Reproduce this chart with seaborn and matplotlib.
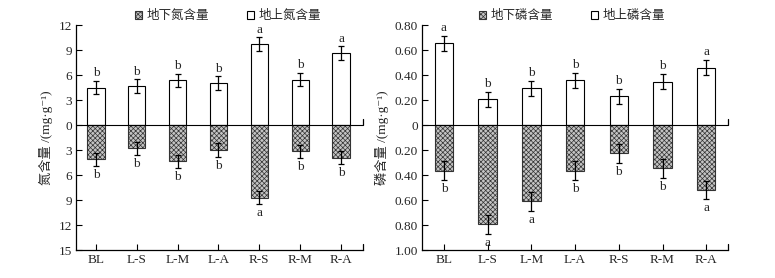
import numpy as np
import pandas as pd
import matplotlib
matplotlib.use("Agg")
import matplotlib.pyplot as plt
import seaborn as sns
from matplotlib.patches import Patch

categories = ["BL", "L-S", "L-M", "L-A", "R-S", "R-M", "R-A"]

n_above = [4.5, 4.7, 5.35, 5.05, 9.75, 5.45, 8.65]
n_above_err = [0.8, 0.8, 0.8, 0.8, 0.8, 0.8, 0.8]
n_below = [4.1, 2.8, 4.35, 3.0, 8.7, 3.15, 3.9]
n_below_err = [0.8, 0.75, 0.8, 0.8, 0.8, 0.8, 0.8]
n_above_letters = ["b", "b", "b", "b", "a", "b", "a"]
n_below_letters = ["b", "b", "b", "b", "a", "b", "b"]

p_above = [0.655, 0.205, 0.295, 0.36, 0.23, 0.348, 0.46]
p_above_err = [0.06, 0.06, 0.06, 0.06, 0.06, 0.06, 0.06]
p_below = [0.365, 0.795, 0.61, 0.365, 0.226, 0.347, 0.52]
p_below_err = [0.075, 0.075, 0.075, 0.075, 0.075, 0.075, 0.075]
p_above_letters = ["a", "b", "b", "b", "b", "b", "a"]
p_below_letters = ["b", "a", "a", "b", "b", "b", "a"]

n_ticks = [12, 9, 6, 3, 0, -3, -6, -9, -12, -15]
p_ticks = [0.8, 0.6, 0.4, 0.2, 0.0, -0.2, -0.4, -0.6, -0.8, -1.0]

sns.set_theme(style="white")
plt.rcParams["font.family"] = ["Liberation Serif", "Noto Sans CJK SC", "DejaVu Serif"]
plt.rcParams["hatch.color"] = "#6a6a6a"
plt.rcParams["hatch.linewidth"] = 0.5

fig = plt.figure(figsize=(7.75, 2.78), dpi=100)
ax1 = fig.add_axes([0.0985, 0.1007, 0.3695, 0.809])
ax2 = fig.add_axes([0.5445, 0.1007, 0.395, 0.809])

LOW_FACE = "#c4c4c4"
HATCH = "xxxxxxx"


def draw(ax, above, above_err, below, below_err, la, lb, ticks, ylim, xlim,
         fmt, ylabel, leg_labels, off, leg_x):
    df_a = pd.DataFrame({"cat": categories, "val": above})
    df_b = pd.DataFrame({"cat": categories, "val": [-v for v in below]})
    sns.barplot(data=df_a, x="cat", y="val", ax=ax, color="white",
                edgecolor="black", linewidth=0.8, width=0.42, errorbar=None,
                saturation=1)
    sns.barplot(data=df_b, x="cat", y="val", ax=ax, color=LOW_FACE,
                edgecolor="#333333", linewidth=0.8, width=0.42, errorbar=None,
                saturation=1)
    for p in ax.patches[len(categories):]:
        p.set_hatch(HATCH)
    x = np.arange(len(categories))
    ax.errorbar(x, above, yerr=above_err, fmt="none", ecolor="black",
                elinewidth=0.9, capsize=2.5, capthick=0.9, zorder=5)
    ax.errorbar(x, [-v for v in below], yerr=below_err, fmt="none",
                ecolor="black", elinewidth=0.9, capsize=2.5, capthick=0.9,
                zorder=5)
    for xi, v, e, t in zip(x, above, above_err, la):
        ax.text(xi, v + e + off, t, ha="center", va="bottom", fontsize=9.5)
    for xi, v, e, t in zip(x, below, below_err, lb):
        ax.text(xi, -(v + e + off * 1.8), t, ha="center", va="top",
                fontsize=9.5)
    ax.axhline(0, color="black", lw=0.8, zorder=4)
    ax.set_ylim(*ylim)
    ax.set_xlim(*xlim)
    ax.set_yticks(ticks)
    ax.set_yticklabels([fmt(abs(t)) for t in ticks], fontsize=9.5)
    ax.set_xticks(x)
    ax.set_xticklabels(categories, fontsize=9.5)
    ax.set_xlabel("")
    ax.set_ylabel(ylabel, fontsize=9.5, labelpad=4)
    for s in ["top", "right"]:
        ax.spines[s].set_visible(False)
    for s in ["left", "bottom"]:
        ax.spines[s].set_color("black")
        ax.spines[s].set_linewidth(0.9)
    ax.tick_params(direction="in", length=4, width=0.8, color="black",
                   left=True, bottom=True, pad=3)
    span = ylim[1] - ylim[0]
    ax.plot([xlim[1], xlim[1]], [0, span * 0.025], color="black", lw=0.9,
            clip_on=False)
    ax.plot([xlim[1], xlim[1]], [ylim[0], ylim[0] + span * 0.025],
            color="black", lw=0.9, clip_on=False)
    handles = [Patch(facecolor=LOW_FACE, edgecolor="#333333", hatch=HATCH,
                     linewidth=0.8),
               Patch(facecolor="white", edgecolor="black", linewidth=0.8)]
    ax.legend(handles, leg_labels, loc="lower center",
              bbox_to_anchor=(leg_x, 0.99), ncol=2, frameon=False,
              fontsize=9, handlelength=0.6, handleheight=0.6,
              handletextpad=0.35, columnspacing=3.0, borderaxespad=0)


draw(ax1, n_above, n_above_err, n_below, n_below_err, n_above_letters,
     n_below_letters, n_ticks, (-15, 12), (-0.48, 6.53),
     lambda t: f"{t:g}", "氮含量 /(mg·g⁻¹)", ["地下氮含量", "地上氮含量"], 0.2,
     0.53)
draw(ax2, p_above, p_above_err, p_below, p_below_err, p_above_letters,
     p_below_letters, p_ticks, (-1.0, 0.8), (-0.5, 6.5),
     lambda t: "0" if t == 0 else f"{t:.2f}", "磷含量 /(mg·g⁻¹)",
     ["地下磷含量", "地上磷含量"], 0.013, 0.49)

fig.savefig("out.png", dpi=100)
